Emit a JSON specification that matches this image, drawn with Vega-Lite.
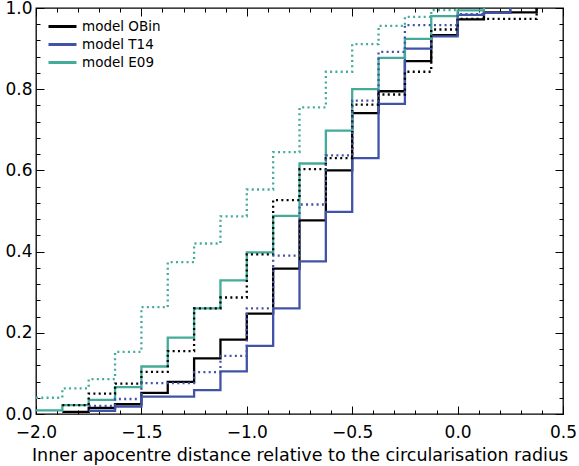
{
  "$schema": "https://vega.github.io/schema/vega-lite/v6.json",
  "width": 527,
  "height": 406,
  "autosize": {"type": "none"},
  "padding": {"left": 36, "top": 8, "right": 16, "bottom": 52},
  "background": "white",
  "config": {
    "font": "DejaVu Sans",
    "view": {"stroke": "black", "strokeWidth": 1.3},
    "axis": {"grid": false, "domain": false, "tickColor": "black", "labelColor": "black", "titleColor": "black", "labelFont": "DejaVu Sans", "titleFont": "DejaVu Sans", "labelFlush": false, "labelOverlap": false, "labelBound": false}
  },
  "data": {"values": [
    {"model": "model OBin", "kind": "solid", "x": -1.875, "y": 0.005},
    {"model": "model OBin", "kind": "solid", "x": -1.75, "y": 0.015},
    {"model": "model OBin", "kind": "solid", "x": -1.625, "y": 0.024},
    {"model": "model OBin", "kind": "solid", "x": -1.5, "y": 0.052},
    {"model": "model OBin", "kind": "solid", "x": -1.375, "y": 0.079},
    {"model": "model OBin", "kind": "solid", "x": -1.25, "y": 0.137},
    {"model": "model OBin", "kind": "solid", "x": -1.125, "y": 0.183},
    {"model": "model OBin", "kind": "solid", "x": -1.0, "y": 0.247},
    {"model": "model OBin", "kind": "solid", "x": -0.875, "y": 0.358},
    {"model": "model OBin", "kind": "solid", "x": -0.75, "y": 0.477},
    {"model": "model OBin", "kind": "solid", "x": -0.625, "y": 0.6},
    {"model": "model OBin", "kind": "solid", "x": -0.5, "y": 0.741},
    {"model": "model OBin", "kind": "solid", "x": -0.375, "y": 0.795},
    {"model": "model OBin", "kind": "solid", "x": -0.25, "y": 0.869},
    {"model": "model OBin", "kind": "solid", "x": -0.125, "y": 0.933},
    {"model": "model OBin", "kind": "solid", "x": 0.0, "y": 0.972},
    {"model": "model OBin", "kind": "solid", "x": 0.125, "y": 0.989},
    {"model": "model OBin", "kind": "solid", "x": 0.375, "y": 1.0},

    {"model": "model T14", "kind": "solid", "x": -1.75, "y": 0.008},
    {"model": "model T14", "kind": "solid", "x": -1.625, "y": 0.018},
    {"model": "model T14", "kind": "solid", "x": -1.5, "y": 0.043},
    {"model": "model T14", "kind": "solid", "x": -1.375, "y": 0.043},
    {"model": "model T14", "kind": "solid", "x": -1.25, "y": 0.059},
    {"model": "model T14", "kind": "solid", "x": -1.125, "y": 0.105},
    {"model": "model T14", "kind": "solid", "x": -1.0, "y": 0.168},
    {"model": "model T14", "kind": "solid", "x": -0.875, "y": 0.26},
    {"model": "model T14", "kind": "solid", "x": -0.75, "y": 0.376},
    {"model": "model T14", "kind": "solid", "x": -0.625, "y": 0.498},
    {"model": "model T14", "kind": "solid", "x": -0.5, "y": 0.63},
    {"model": "model T14", "kind": "solid", "x": -0.375, "y": 0.764},
    {"model": "model T14", "kind": "solid", "x": -0.25, "y": 0.9},
    {"model": "model T14", "kind": "solid", "x": -0.125, "y": 0.93},
    {"model": "model T14", "kind": "solid", "x": 0.0, "y": 0.983},
    {"model": "model T14", "kind": "solid", "x": 0.125, "y": 0.988},
    {"model": "model T14", "kind": "solid", "x": 0.25, "y": 1.0},

    {"model": "model E09", "kind": "solid", "x": -2.0, "y": 0.009},
    {"model": "model E09", "kind": "solid", "x": -1.875, "y": 0.022},
    {"model": "model E09", "kind": "solid", "x": -1.75, "y": 0.035},
    {"model": "model E09", "kind": "solid", "x": -1.625, "y": 0.066},
    {"model": "model E09", "kind": "solid", "x": -1.5, "y": 0.117},
    {"model": "model E09", "kind": "solid", "x": -1.375, "y": 0.188},
    {"model": "model E09", "kind": "solid", "x": -1.25, "y": 0.26},
    {"model": "model E09", "kind": "solid", "x": -1.125, "y": 0.329},
    {"model": "model E09", "kind": "solid", "x": -1.0, "y": 0.398},
    {"model": "model E09", "kind": "solid", "x": -0.875, "y": 0.488},
    {"model": "model E09", "kind": "solid", "x": -0.75, "y": 0.617},
    {"model": "model E09", "kind": "solid", "x": -0.625, "y": 0.698},
    {"model": "model E09", "kind": "solid", "x": -0.5, "y": 0.8},
    {"model": "model E09", "kind": "solid", "x": -0.375, "y": 0.877},
    {"model": "model E09", "kind": "solid", "x": -0.25, "y": 0.924},
    {"model": "model E09", "kind": "solid", "x": -0.125, "y": 0.98},
    {"model": "model E09", "kind": "solid", "x": 0.0, "y": 0.994},
    {"model": "model E09", "kind": "solid", "x": 0.125, "y": 1.0},

    {"model": "model OBin", "kind": "dotted", "x": -1.875, "y": 0.022},
    {"model": "model OBin", "kind": "dotted", "x": -1.75, "y": 0.05},
    {"model": "model OBin", "kind": "dotted", "x": -1.625, "y": 0.075},
    {"model": "model OBin", "kind": "dotted", "x": -1.5, "y": 0.104},
    {"model": "model OBin", "kind": "dotted", "x": -1.375, "y": 0.155},
    {"model": "model OBin", "kind": "dotted", "x": -1.25, "y": 0.26},
    {"model": "model OBin", "kind": "dotted", "x": -1.125, "y": 0.287},
    {"model": "model OBin", "kind": "dotted", "x": -1.0, "y": 0.393},
    {"model": "model OBin", "kind": "dotted", "x": -0.875, "y": 0.527},
    {"model": "model OBin", "kind": "dotted", "x": -0.75, "y": 0.603},
    {"model": "model OBin", "kind": "dotted", "x": -0.625, "y": 0.63},
    {"model": "model OBin", "kind": "dotted", "x": -0.5, "y": 0.762},
    {"model": "model OBin", "kind": "dotted", "x": -0.375, "y": 0.787},
    {"model": "model OBin", "kind": "dotted", "x": -0.25, "y": 0.843},
    {"model": "model OBin", "kind": "dotted", "x": -0.125, "y": 0.947},
    {"model": "model OBin", "kind": "dotted", "x": 0.0, "y": 0.973},
    {"model": "model OBin", "kind": "dotted", "x": 0.375, "y": 1.0},

    {"model": "model T14", "kind": "dotted", "x": -1.75, "y": 0.02},
    {"model": "model T14", "kind": "dotted", "x": -1.625, "y": 0.037},
    {"model": "model T14", "kind": "dotted", "x": -1.5, "y": 0.076},
    {"model": "model T14", "kind": "dotted", "x": -1.375, "y": 0.076},
    {"model": "model T14", "kind": "dotted", "x": -1.25, "y": 0.103},
    {"model": "model T14", "kind": "dotted", "x": -1.125, "y": 0.143},
    {"model": "model T14", "kind": "dotted", "x": -1.0, "y": 0.26},
    {"model": "model T14", "kind": "dotted", "x": -0.875, "y": 0.39},
    {"model": "model T14", "kind": "dotted", "x": -0.75, "y": 0.516},
    {"model": "model T14", "kind": "dotted", "x": -0.625, "y": 0.637},
    {"model": "model T14", "kind": "dotted", "x": -0.5, "y": 0.772},
    {"model": "model T14", "kind": "dotted", "x": -0.375, "y": 0.892},
    {"model": "model T14", "kind": "dotted", "x": -0.25, "y": 0.958},
    {"model": "model T14", "kind": "dotted", "x": -0.125, "y": 0.958},
    {"model": "model T14", "kind": "dotted", "x": 0.0, "y": 0.985},
    {"model": "model T14", "kind": "dotted", "x": 0.125, "y": 0.988},
    {"model": "model T14", "kind": "dotted", "x": 0.25, "y": 1.0},

    {"model": "model E09", "kind": "dotted", "x": -2.0, "y": 0.04},
    {"model": "model E09", "kind": "dotted", "x": -1.875, "y": 0.063},
    {"model": "model E09", "kind": "dotted", "x": -1.75, "y": 0.086},
    {"model": "model E09", "kind": "dotted", "x": -1.625, "y": 0.153},
    {"model": "model E09", "kind": "dotted", "x": -1.5, "y": 0.263},
    {"model": "model E09", "kind": "dotted", "x": -1.375, "y": 0.374},
    {"model": "model E09", "kind": "dotted", "x": -1.25, "y": 0.42},
    {"model": "model E09", "kind": "dotted", "x": -1.125, "y": 0.487},
    {"model": "model E09", "kind": "dotted", "x": -1.0, "y": 0.553},
    {"model": "model E09", "kind": "dotted", "x": -0.875, "y": 0.645},
    {"model": "model E09", "kind": "dotted", "x": -0.75, "y": 0.755},
    {"model": "model E09", "kind": "dotted", "x": -0.625, "y": 0.843},
    {"model": "model E09", "kind": "dotted", "x": -0.5, "y": 0.911},
    {"model": "model E09", "kind": "dotted", "x": -0.375, "y": 0.956},
    {"model": "model E09", "kind": "dotted", "x": -0.25, "y": 0.978},
    {"model": "model E09", "kind": "dotted", "x": -0.125, "y": 0.995},
    {"model": "model E09", "kind": "dotted", "x": 0.0, "y": 1.0}
  ]},
  "layer": [
    {
      "mark": {"type": "line", "interpolate": "step-after", "strokeWidth": 2.3},
      "encoding": {
        "x": {"field": "x", "type": "quantitative", "scale": {"domain": [-2, 0.5], "nice": false, "zero": false},
              "axis": {"orient": "bottom", "values": [-2, -1.5, -1, -0.5, 0, 0.5], "format": ".1f", "tickSize": -8, "labelPadding": 18, "labelFontSize": 17, "titleFontSize": 17.5, "titleFontWeight": "normal", "titlePadding": 6,
                       "title": "Inner apocentre distance relative to the circularisation radius"}},
        "y": {"field": "y", "type": "quantitative", "scale": {"domain": [0, 1], "nice": false, "zero": false},
              "axis": {"orient": "left", "values": [0, 0.2, 0.4, 0.6, 0.8, 1.0], "format": ".1f", "tickSize": -8, "labelPadding": 12, "labelFontSize": 17, "title": null}},
        "color": {"field": "model", "type": "nominal",
                  "scale": {"domain": ["model OBin", "model T14", "model E09"], "range": ["#000000", "#4153A6", "#44AA99"]},
                  "legend": {"orient": "none", "legendX": 15, "legendY": 7, "title": null, "symbolType": "M-1.4,0L1.4,0", "symbolStrokeWidth": 3, "symbolSize": 400, "labelFontSize": 13.5, "labelOffset": 8, "rowPadding": 0, "padding": 0, "labelColor": "black"}},
        "strokeDash": {"field": "kind", "type": "nominal", "scale": {"domain": ["solid", "dotted"], "range": [[1, 0], [2, 3.3]]}, "legend": null},
        "detail": {"field": "kind"}
      }
    },
    {
      "mark": {"type": "point", "opacity": 0},
      "encoding": {
        "x": {"field": "x", "type": "quantitative", "scale": {"domain": [-2, 0.5], "nice": false, "zero": false}, "axis": {"orient": "top", "values": [-2, -1.5, -1, -0.5, 0, 0.5], "tickSize": -8, "labels": false, "title": null}},
        "y": {"field": "y", "type": "quantitative", "scale": {"domain": [0, 1], "nice": false, "zero": false}, "axis": {"orient": "right", "values": [0, 0.2, 0.4, 0.6, 0.8, 1.0], "tickSize": -8, "labels": false, "title": null}}
      }
    },
    {
      "mark": {"type": "point", "opacity": 0},
      "encoding": {
        "x": {"field": "x", "type": "quantitative", "scale": {"domain": [-2, 0.5], "nice": false, "zero": false}, "axis": {"orient": "bottom", "values": [-1.9, -1.8, -1.7, -1.6, -1.4, -1.3, -1.2, -1.1, -0.9, -0.8, -0.7, -0.6, -0.4, -0.3, -0.2, -0.1, 0.1, 0.2, 0.3, 0.4], "tickSize": -4, "labels": false, "title": null}},
        "y": {"field": "y", "type": "quantitative", "scale": {"domain": [0, 1], "nice": false, "zero": false}, "axis": {"orient": "left", "values": [0.04, 0.08, 0.12, 0.16, 0.24, 0.28, 0.32, 0.36, 0.44, 0.48, 0.52, 0.56, 0.64, 0.68, 0.72, 0.76, 0.84, 0.88, 0.92, 0.96], "tickSize": -4, "labels": false, "title": null}}
      }
    },
    {
      "mark": {"type": "point", "opacity": 0},
      "encoding": {
        "x": {"field": "x", "type": "quantitative", "scale": {"domain": [-2, 0.5], "nice": false, "zero": false}, "axis": {"orient": "top", "values": [-1.9, -1.8, -1.7, -1.6, -1.4, -1.3, -1.2, -1.1, -0.9, -0.8, -0.7, -0.6, -0.4, -0.3, -0.2, -0.1, 0.1, 0.2, 0.3, 0.4], "tickSize": -4, "labels": false, "title": null}},
        "y": {"field": "y", "type": "quantitative", "scale": {"domain": [0, 1], "nice": false, "zero": false}, "axis": {"orient": "right", "values": [0.04, 0.08, 0.12, 0.16, 0.24, 0.28, 0.32, 0.36, 0.44, 0.48, 0.52, 0.56, 0.64, 0.68, 0.72, 0.76, 0.84, 0.88, 0.92, 0.96], "tickSize": -4, "labels": false, "title": null}}
      }
    }
  ],
  "resolve": {"axis": {"x": "independent", "y": "independent"}}
}
